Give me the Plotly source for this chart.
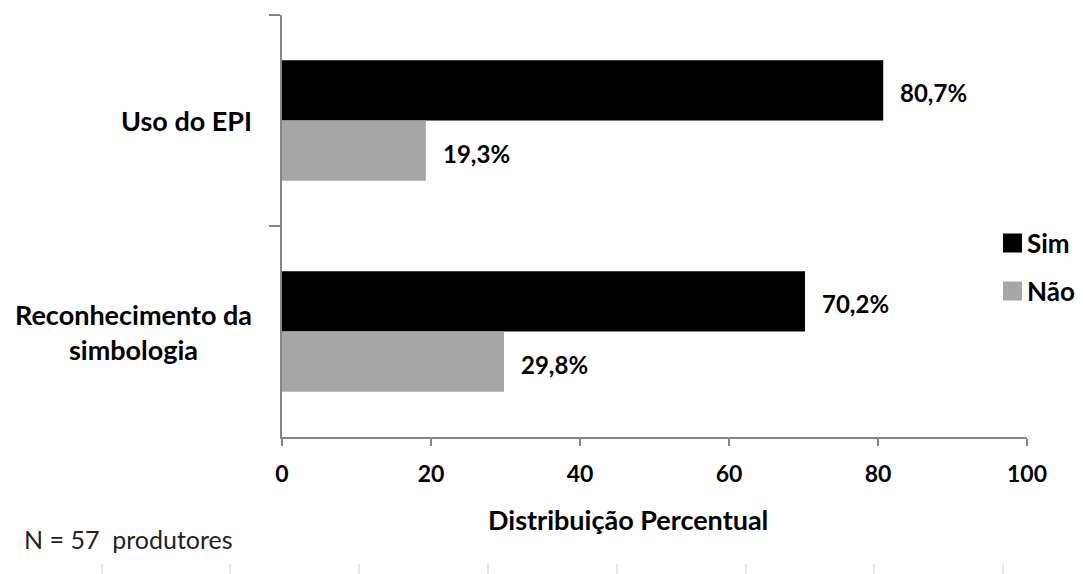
import plotly.graph_objects as go

# Data
categories = ["Uso do EPI", "Reconhecimento da simbologia"]
category_labels = ["Uso do EPI", "Reconhecimento da<br>simbologia"]
series_names = ["Sim", "Não"]
sim_values = [80.7, 70.2]
nao_values = [19.3, 29.8]
x_ticks = [0, 20, 40, 60, 80, 100]
note_text = "N = 57 &#160;produtores"
axis_title = "Distribuição Percentual"

colors = ["#000000", "#a6a6a6"]
FONT = "Lato"
W, H = 1083, 574
L, R, T, B = 282, 56, 15, 137
PW, PH = W - L - R, H - T - B


def py2paper(py):
    return (T + PH - py) / PH


def px2paper(px):
    return (px - L) / PW


fig = go.Figure()
for name, vals, col in zip(series_names, [sim_values, nao_values], colors):
    fig.add_trace(go.Bar(
        y=categories, x=vals, name=name, orientation="h",
        marker=dict(color=col, line=dict(width=0)),
        showlegend=False, hoverinfo="x+y",
    ))

# Value labels at the end of each bar
ann = []
for i, cat in enumerate(categories):
    for j, vals in enumerate([sim_values, nao_values]):
        v = vals[i]
        ann.append(dict(
            x=v, y=cat, xref="x", yref="y", xanchor="left", yanchor="middle",
            text=f"{v:.1f}%".replace(".", ","), showarrow=False,
            xshift=15, yshift=28 if j == 0 else -33,
            font=dict(family=FONT, size=24, color="#000000", weight="bold"),
        ))

# Category labels (centered multi-line)
for cat, lab in zip(categories, category_labels):
    ann.append(dict(
        x=px2paper(254), y=cat, xref="paper", yref="y", xanchor="right",
        yanchor="middle", text=lab, showarrow=False, align="center",
        font=dict(family=FONT, size=27, color="#000000", weight="bold"),
    ))

# Axis title
ann.append(dict(
    x=px2paper(628), y=py2paper(519), xref="paper", yref="paper",
    xanchor="center", yanchor="middle", text=axis_title, showarrow=False,
    font=dict(family=FONT, size=27, color="#000000", weight="bold"),
))

# Footnote
ann.append(dict(
    x=px2paper(22), y=py2paper(539), xref="paper", yref="paper",
    xanchor="left", yanchor="middle", text=note_text, showarrow=False,
    font=dict(family=FONT, size=25, color="#222222"),
))

# Legend drawn as swatches and labels
shapes = []
leg_y = [243, 291]
for name, col, py in zip(series_names, colors, leg_y):
    shapes.append(dict(
        type="rect", xref="paper", yref="paper",
        x0=px2paper(1003), x1=px2paper(1022),
        y0=py2paper(py + 9.5), y1=py2paper(py - 9.5),
        fillcolor=col, line=dict(width=0),
    ))
    ann.append(dict(
        x=px2paper(1025), y=py2paper(py), xref="paper", yref="paper",
        xanchor="left", yanchor="middle", text=name, showarrow=False,
        font=dict(family=FONT, size=26, color="#000000", weight="bold"),
    ))

# Faint page ruler ticks along the bottom edge
for px in [102, 230, 359, 488, 617, 746, 874, 1003]:
    shapes.append(dict(
        type="line", xref="paper", yref="paper",
        x0=px2paper(px), x1=px2paper(px),
        y0=py2paper(564), y1=py2paper(575),
        line=dict(color="#c9d0da", width=1),
    ))

fig.update_layout(
    width=W, height=H,
    margin=dict(l=L, r=R, t=T, b=B),
    paper_bgcolor="white", plot_bgcolor="white",
    barmode="group", bargap=0.43, bargroupgap=0,
    annotations=ann, shapes=shapes,
    xaxis=dict(
        range=[0, 100], tickvals=x_ticks, ticktext=[str(t) for t in x_ticks],
        showgrid=False, zeroline=False,
        showline=True, linecolor="#868686", linewidth=2,
        ticks="outside", ticklen=7, tickwidth=2, tickcolor="#868686",
        tickfont=dict(family=FONT, size=23, color="#000000", weight="bold"),
        ticklabelstandoff=8, fixedrange=True,
    ),
    yaxis=dict(
        categoryorder="array", categoryarray=categories, autorange="reversed",
        showticklabels=False, showgrid=False, zeroline=False,
        showline=True, linecolor="#868686", linewidth=2,
        ticks="outside", tickson="boundaries", ticklen=11, tickwidth=2,
        tickcolor="#868686", fixedrange=True,
    ),
)

fig.write_html("out.html")
